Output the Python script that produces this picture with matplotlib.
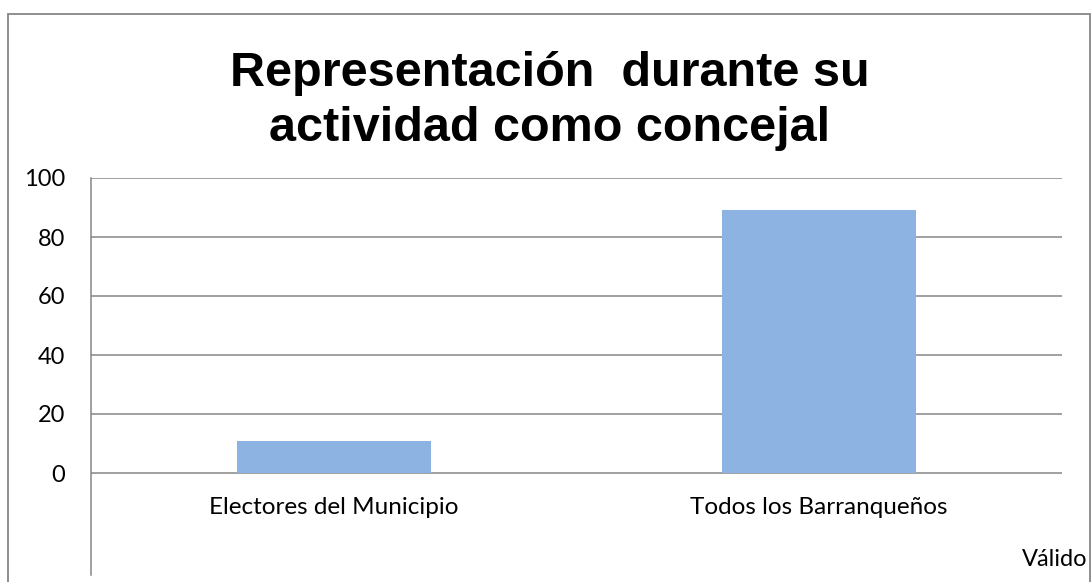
import matplotlib
matplotlib.use("Agg")
import matplotlib.pyplot as plt
from matplotlib.patches import Rectangle

categories = ["Electores del Municipio", "Todos los Barranqueños"]
values = [11, 89]
yticks = [0, 20, 40, 60, 80, 100]
title = "Representación  durante su\nactividad como concejal"
footer = "Válido"

W, H = 1092, 582
grid_color = "#868686"
bar_color = "#8DB3E2"
title_font = "Liberation Sans"
body_font = "Lato"

fig = plt.figure(figsize=(W / 100, H / 100), dpi=100)

# outer chart border
fig.patches.append(Rectangle((8 / W, -0.05), (1090 - 8) / W, (H - 14) / H + 0.05,
                             transform=fig.transFigure, fill=False,
                             edgecolor=grid_color, linewidth=1.3))

# axes from pixel layout: y=100 at 178px, y=0 at 473px, axis ends at 575px
top_px, zero_px, bottom_px = 178, 473, 575
ymin = -(bottom_px - zero_px) / (zero_px - top_px) * 100
ax = fig.add_axes([91 / W, (H - bottom_px) / H, (1062 - 91) / W, (bottom_px - top_px) / H])
ax.set_xlim(0, len(categories))
ax.set_ylim(ymin, 100)

for y in yticks:
    ax.axhline(y, color=grid_color, linewidth=1.1, zorder=1)

xs = [i + 0.5 for i in range(len(categories))]
ax.bar(xs, values, width=0.4, color=bar_color, zorder=2)

for s in ["top", "right", "bottom"]:
    ax.spines[s].set_visible(False)
ax.spines["left"].set_color(grid_color)
ax.spines["left"].set_linewidth(1.1)

ax.set_xticks([])
ax.set_yticks(yticks)
ax.set_yticklabels([str(v) for v in yticks], fontsize=17, family=body_font)
ax.tick_params(axis="y", length=0, pad=26 * 0.72)

label_y = -(508 - zero_px) / (zero_px - top_px) * 100
for x, lab in zip(xs, categories):
    ax.text(x, label_y, lab, ha="center", va="center", fontsize=17.5, family=body_font)

fig.text(550 / W, 1 - 101 / H, title, ha="center", va="center", fontsize=35,
         fontweight="bold", family=title_font, linespacing=1.27)

fig.text(1087 / W, 1 - 560 / H, footer, ha="right", va="center", fontsize=17,
         family=body_font)

fig.savefig("out.png", dpi=100)
